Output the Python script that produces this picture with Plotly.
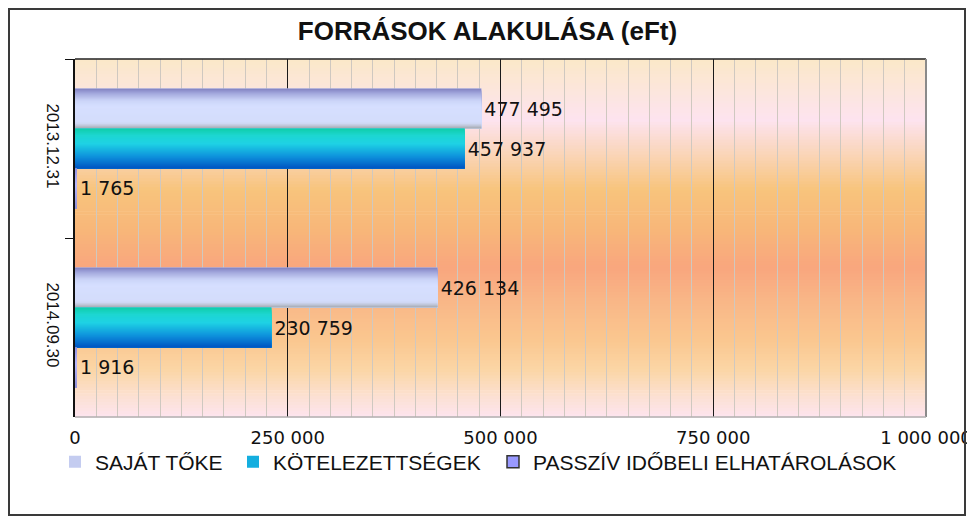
import plotly.graph_objects as go

# ---------------- data ----------------
categories = ["2013.12.31", "2014.09.30"]
series_names = ["SAJÁT TŐKE", "KÖTELEZETTSÉGEK", "PASSZÍV IDŐBELI ELHATÁROLÁSOK"]
sajat_toke = [477495, 426134]
kotelezettsegek = [457937, 230759]
passziv = [1765, 1916]
x_tickvals = [0, 250000, 500000, 750000, 1000000]
x_ticktext = ["0", "250 000", "500 000", "750 000", "1 000 000"]
title_text = "FORRÁSOK ALAKULÁSA (eFt)"

# ---------------- geometry / style ----------------
OFF = 8                      # page body margin
W, H = 975 - OFF, 517 - OFF
ML, MT = 75 - OFF, 59 - OFF
PW, PH = 851, 358
MR, MB = W - ML - PW, H - MT - PH

ARIAL = "Arial, Liberation Sans, sans-serif"
DEJAVU = "DejaVu Sans, sans-serif"


def hex2rgb(h):
    h = h.lstrip("#")
    return tuple(int(h[i:i + 2], 16) for i in (0, 2, 4))


def interp(stops, t):
    for (t0, c0), (t1, c1) in zip(stops[:-1], stops[1:]):
        if t0 <= t <= t1:
            f = 0 if t1 == t0 else (t - t0) / (t1 - t0)
            a, b = hex2rgb(c0), hex2rgb(c1)
            return "rgb(%d,%d,%d)" % tuple(round(a[k] + (b[k] - a[k]) * f) for k in range(3))
    return stops[-1][1]


def px_x(px):  # page px -> paper x
    return (px - OFF - ML) / PW


def px_y(py):  # page px -> paper y
    return (H - MB - (py - OFF)) / PH


# background gradient (page y -> colour)
bg_px_stops = [(59, "#FBE8C8"), (90, "#FCE6DC"), (120, "#FDE3EF"), (152, "#FAD6BC"),
               (190, "#F8C47C"), (230, "#F8B679"), (268, "#F9A67E"), (300, "#F9B687"),
               (340, "#FAC78F"), (370, "#FBD6A6"), (395, "#FCE0D0"), (417, "#FDE4EE")]
bg_stops = [((y - 59) / PH, c) for y, c in bg_px_stops]

shapes = []
NBG = 120
for i in range(NBG):
    shapes.append(dict(type="rect", xref="paper", yref="paper", x0=0, x1=1,
                       y0=1 - (i + 1) / NBG - 0.002, y1=1 - i / NBG,
                       fillcolor=interp(bg_stops, (i + 0.5) / NBG), line=dict(width=0),
                       layer="below"))

# borders of plot area
shapes.append(dict(type="line", xref="paper", yref="paper", x0=0, x1=1, y0=1, y1=1,
                   line=dict(color="#222222", width=1.5), layer="above"))
shapes.append(dict(type="line", xref="paper", yref="paper", x0=1, x1=1, y0=0, y1=1,
                   line=dict(color="#8a8a8a", width=2), layer="above"))
shapes.append(dict(type="line", xref="paper", yref="paper", x0=0, x1=1, y0=0, y1=0,
                   line=dict(color="#b0b0b0", width=1.5), layer="above"))
# outer chart border
shapes.append(dict(type="rect", xref="paper", yref="paper",
                   x0=px_x(9), x1=px_x(965), y0=px_y(515), y1=px_y(9),
                   line=dict(color="#3a3a3a", width=2), fillcolor="rgba(0,0,0,0)",
                   layer="above"))

# bar gradients (top -> bottom)
grad_sajat = [(0, "#8080C0"), (0.12, "#A2A7DC"), (0.3, "#CBD4F8"), (0.45, "#D6DFFF"),
              (0.86, "#D3DCFB"), (0.95, "#B9BFCD"), (1.0, "#A0A6AA")]
grad_kot = [(0, "#0FCEA8"), (0.18, "#1DD6D2"), (0.38, "#1ED2E4"), (0.7, "#0E92DC"),
            (1.0, "#0054C2")]
grad_pass = [(0, "#9090E0"), (0.4, "#B8B8FF"), (1.0, "#9090D8")]

series_values = [sajat_toke, kotelezettsegek, passziv]
series_grads = [grad_sajat, grad_kot, grad_pass]
legend_colors = ["#C4CCF0", "#14AEDF", "#9999FF"]
legend_lines = [dict(width=0), dict(width=0), dict(color="#333333", width=1.5)]

GROUP = 0.67
BW = GROUP / 3
offsets = [-GROUP / 2 + k * BW for k in range(3)]

fig = go.Figure()
NS = 20
for s in range(3):
    vals = series_values[s]
    fig.add_trace(go.Bar(
        x=vals, y=categories, orientation="h", offset=offsets[s], width=BW,
        marker=dict(color=interp(series_grads[s], 0.5), line=dict(width=0)),
        texttemplate="%{x:,d}", textposition="outside", constraintext="none",
        cliponaxis=False,
        textfont=dict(family=DEJAVU, size=19, color="#111111"),
        showlegend=False, hoverinfo="skip"))
    for i in range(NS):
        fig.add_trace(go.Bar(
            x=vals, y=categories, orientation="h",
            offset=offsets[s] + i * BW / NS, width=BW - i * BW / NS,
            marker=dict(color=interp(series_grads[s], (i + 0.5) / NS), line=dict(width=0)),
            showlegend=False, hoverinfo="skip"))

legend_keys = ["legend", "legend2", "legend3"]
legend_sym_px = [75, 253, 513]
for s in range(3):
    fig.add_trace(go.Bar(
        x=[None], y=[None], orientation="h", name=series_names[s],
        marker=dict(color=legend_colors[s], line=legend_lines[s]),
        legend=legend_keys[s], showlegend=True))

legend_common = dict(orientation="h", yanchor="middle", xanchor="left",
                     y=px_y(462), bgcolor="rgba(0,0,0,0)",
                     font=dict(family=ARIAL, size=21, color="#111111"))

fig.update_layout(
    width=W, height=H,
    margin=dict(l=ML, r=MR, t=MT, b=MB, pad=0, autoexpand=False),
    paper_bgcolor="white", plot_bgcolor="rgba(0,0,0,0)",
    barmode="overlay",
    separators=", ",
    title=dict(text="<b>%s</b>" % title_text, x=(487.5 - OFF) / W, xref="container",
               xanchor="center", y=1 - (31 - OFF) / H, yref="container", yanchor="middle",
               font=dict(family=ARIAL, size=26, color="#111111")),
    xaxis=dict(range=[0, 1000000], tickvals=x_tickvals, ticktext=x_ticktext,
               showgrid=True, gridcolor="#1a1a1a", gridwidth=1,
               minor=dict(dtick=25000, tick0=0, showgrid=True, gridcolor="#CFC8C0", gridwidth=1),
               ticks="", showline=False, zeroline=False, automargin=False,
               ticklabelstandoff=8,
               tickfont=dict(family=DEJAVU, size=18, color="#111111")),
    xaxis2=dict(range=[0, 1000000], overlaying="x", side="top", ticks="inside",
                ticklen=4, tickcolor="#222222", dtick=25000, tick0=0, automargin=False,
                showticklabels=False, showgrid=False, zeroline=False, showline=False),
    yaxis=dict(type="category", categoryorder="array", categoryarray=categories,
               autorange="reversed", showline=True, linecolor="#111111", linewidth=1.5,
               ticks="outside", ticklen=8, tickcolor="#111111", tickson="boundaries",
               tickangle=90, showgrid=False, zeroline=False, automargin=False,
               ticklabelstandoff=6,
               tickfont=dict(family=ARIAL, size=17, color="#111111")),
    legend=dict(x=px_x(legend_sym_px[0] - 20), **legend_common),
    legend2=dict(x=px_x(legend_sym_px[1] - 20), **legend_common),
    legend3=dict(x=px_x(legend_sym_px[2] - 20), **legend_common),
    shapes=shapes,
)

fig.write_html("out.html")
